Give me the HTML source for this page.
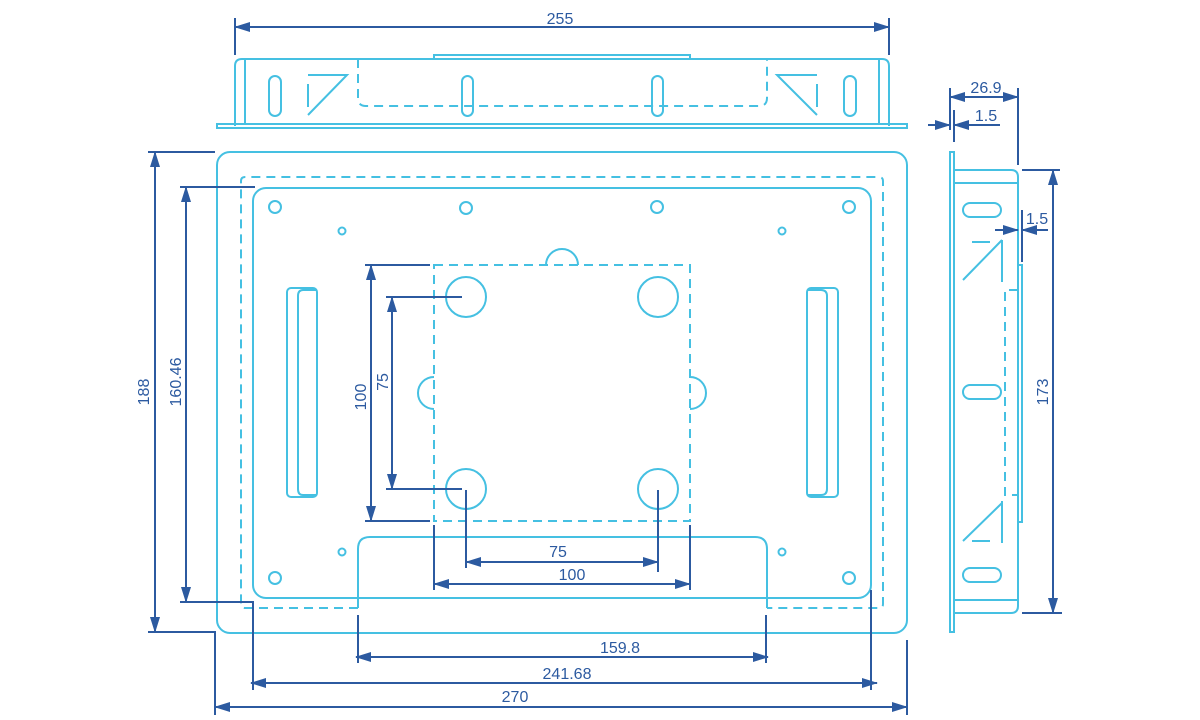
<!DOCTYPE html>
<html><head><meta charset="utf-8"><style>
html,body{margin:0;padding:0;background:#fff}
svg{display:block}
text{font-family:"Liberation Sans",sans-serif;font-size:16px;fill:#2c5aa0}
.c{fill:none;stroke:#45c0e2;stroke-width:2}
.d{fill:none;stroke:#45c0e2;stroke-width:2;stroke-dasharray:9 6}
.b{fill:none;stroke:#2c5aa0;stroke-width:2}
.a{fill:none;stroke:#2c5aa0;stroke-width:2;marker-start:url(#ms);marker-end:url(#me)}
</style></head><body>
<svg width="1200" height="720" viewBox="0 0 1200 720">
<defs>
<marker id="me" markerWidth="16" markerHeight="10" refX="15" refY="5" orient="auto" markerUnits="userSpaceOnUse"><path d="M0,0 L16,5 L0,10 z" fill="#2c5aa0"/></marker>
<marker id="ms" markerWidth="16" markerHeight="10" refX="1" refY="5" orient="auto" markerUnits="userSpaceOnUse"><path d="M16,0 L0,5 L16,10 z" fill="#2c5aa0"/></marker>
</defs>

<!-- TOP VIEW -->
<path class="c" d="M235,126 V66 Q235,59 242,59 H882 Q889,59 889,66 V126"/>
<line class="c" x1="245" y1="59" x2="245" y2="124"/>
<line class="c" x1="879" y1="59" x2="879" y2="124"/>
<rect class="c" x="217" y="124" width="690" height="4"/>
<rect class="c" x="434" y="55" width="256" height="4"/>
<path class="d" d="M358,59 V98 Q358,106 366,106 H759 Q767,106 767,98 V59"/>
<rect class="c" x="269" y="76" width="12" height="40" rx="6"/>
<rect class="c" x="462" y="76" width="11" height="40" rx="5.5"/>
<rect class="c" x="652" y="76" width="11" height="40" rx="5.5"/>
<rect class="c" x="844" y="76" width="12" height="40" rx="6"/>
<path class="c" d="M308,75 H347 L308,115 M308,84 V107"/>
<path class="c" d="M817,75 H777 L817,115 M817,84 V107"/>
<line class="b" x1="235" y1="18" x2="235" y2="55"/>
<line class="b" x1="889" y1="18" x2="889" y2="55"/>
<line class="a" x1="235" y1="27" x2="889" y2="27"/>
<text x="560" y="24" text-anchor="middle">255</text>

<!-- MAIN VIEW -->
<rect class="c" x="217" y="152" width="690" height="481" rx="13"/>
<path class="d" d="M358,608 H245 Q241,608 241,604 V181 Q241,177 245,177 H879 Q883,177 883,181 V604 Q883,608 879,608 H767"/>
<rect class="c" x="253" y="188" width="618" height="410" rx="13"/>
<path fill="#fff" class="c" d="M358,608 V549 Q358,537 370,537 H755 Q767,537 767,549 V608"/>
<circle class="c" cx="275" cy="207" r="6"/><circle class="c" cx="466" cy="208" r="6"/>
<circle class="c" cx="657" cy="207" r="6"/><circle class="c" cx="849" cy="207" r="6"/>
<circle class="c" cx="275" cy="578" r="6"/><circle class="c" cx="849" cy="578" r="6"/>
<circle class="c" cx="342" cy="231" r="3.5"/><circle class="c" cx="782" cy="231" r="3.5"/>
<circle class="c" cx="342" cy="552" r="3.5"/><circle class="c" cx="782" cy="552" r="3.5"/>
<rect class="c" x="287" y="288" width="30" height="209" rx="4"/>
<path class="c" d="M317,290 H303 Q298,290 298,296 V489 Q298,495 303,495 H317"/>
<rect class="c" x="807" y="288" width="31" height="209" rx="4"/>
<path class="c" d="M807,290 H821 Q827,290 827,296 V489 Q827,495 821,495 H807"/>
<rect class="d" x="434" y="265" width="256" height="256"/>
<circle class="c" cx="466" cy="297" r="20"/><circle class="c" cx="658" cy="297" r="20"/>
<circle class="c" cx="466" cy="489" r="20"/><circle class="c" cx="658" cy="489" r="20"/>
<path class="c" d="M546,265 A16,16 0 0 1 578,265"/>
<path class="c" d="M434,377 A16,16 0 0 0 434,409"/>
<path class="c" d="M690,377 A16,16 0 0 1 690,409"/>

<!-- main dims -->
<line class="b" x1="148" y1="152" x2="215" y2="152"/>
<path class="b" d="M148,632 H215 V715"/>
<line class="a" x1="155" y1="152" x2="155" y2="632"/>
<text transform="translate(149,392) rotate(-90)" text-anchor="middle">188</text>
<line class="b" x1="180" y1="187" x2="255" y2="187"/>
<path class="b" d="M180,602 H253 V690"/>
<line class="a" x1="186" y1="187" x2="186" y2="602"/>
<text transform="translate(181,382) rotate(-90)" text-anchor="middle">160.46</text>
<line class="b" x1="365" y1="265" x2="430" y2="265"/>
<line class="b" x1="365" y1="521" x2="430" y2="521"/>
<line class="a" x1="371" y1="265" x2="371" y2="521"/>
<text transform="translate(366,397) rotate(-90)" text-anchor="middle">100</text>
<line class="b" x1="386" y1="297" x2="462" y2="297"/>
<line class="b" x1="386" y1="489" x2="462" y2="489"/>
<line class="a" x1="392" y1="297" x2="392" y2="489"/>
<text transform="translate(388,382) rotate(-90)" text-anchor="middle">75</text>
<line class="b" x1="466" y1="490" x2="466" y2="568"/>
<line class="b" x1="658" y1="490" x2="658" y2="572"/>
<line class="a" x1="466" y1="562" x2="658" y2="562"/>
<text x="558" y="557" text-anchor="middle">75</text>
<line class="b" x1="434" y1="525" x2="434" y2="590"/>
<line class="b" x1="690" y1="525" x2="690" y2="590"/>
<line class="a" x1="434" y1="584" x2="690" y2="584"/>
<text x="572" y="580" text-anchor="middle">100</text>
<line class="b" x1="358" y1="615" x2="358" y2="663"/>
<line class="b" x1="766" y1="615" x2="766" y2="663"/>
<line class="a" x1="356" y1="657" x2="768" y2="657"/>
<text x="620" y="653" text-anchor="middle">159.8</text>
<line class="b" x1="871" y1="590" x2="871" y2="690"/>
<line class="a" x1="251" y1="683" x2="877" y2="683"/>
<text x="567" y="679" text-anchor="middle">241.68</text>
<line class="b" x1="907" y1="640" x2="907" y2="715"/>
<line class="a" x1="215" y1="707" x2="907" y2="707"/>
<text x="515" y="702" text-anchor="middle">270</text>

<!-- SIDE VIEW -->
<rect class="c" x="950" y="152" width="4" height="480"/>
<path class="c" d="M954,170 H1011 Q1018,170 1018,177 V606 Q1018,613 1011,613 H954"/>
<line class="c" x1="954" y1="183" x2="1018" y2="183"/>
<line class="c" x1="954" y1="600" x2="1018" y2="600"/>
<rect class="c" x="1018" y="265" width="4" height="257"/>
<path class="d" d="M1018,290 H1005 V495 H1018"/>
<rect class="c" x="963" y="203" width="38" height="14" rx="7"/>
<rect class="c" x="963" y="385" width="38" height="14" rx="7"/>
<rect class="c" x="963" y="568" width="38" height="14" rx="7"/>
<path class="c" d="M1002,240 V282 M1002,240 L963,280 M972,242 H990"/>
<path class="c" d="M1002,543 V501 M1002,503 L963,541 M972,541 H990"/>
<line class="b" x1="950" y1="88" x2="950" y2="130"/>
<line class="b" x1="1018" y1="88" x2="1018" y2="165"/>
<line class="a" x1="950" y1="97" x2="1018" y2="97"/>
<text x="986" y="93" text-anchor="middle">26.9</text>
<line class="b" x1="954" y1="110" x2="954" y2="142"/>
<line class="b" x1="928" y1="125" x2="950" y2="125" marker-end="url(#me)"/>
<line class="b" x1="1000" y1="125" x2="954" y2="125" marker-end="url(#me)"/>
<text x="986" y="121" text-anchor="middle">1.5</text>
<line class="b" x1="1022" y1="210" x2="1022" y2="262"/>
<line class="b" x1="995" y1="230" x2="1018" y2="230" marker-end="url(#me)"/>
<line class="b" x1="1048" y1="230" x2="1022" y2="230" marker-end="url(#me)"/>
<text x="1037" y="224" text-anchor="middle">1.5</text>
<line class="b" x1="1022" y1="170" x2="1060" y2="170"/>
<line class="b" x1="1022" y1="613" x2="1062" y2="613"/>
<line class="a" x1="1053" y1="170" x2="1053" y2="613"/>
<text transform="translate(1048,392) rotate(-90)" text-anchor="middle">173</text>
</svg>
</body></html>
